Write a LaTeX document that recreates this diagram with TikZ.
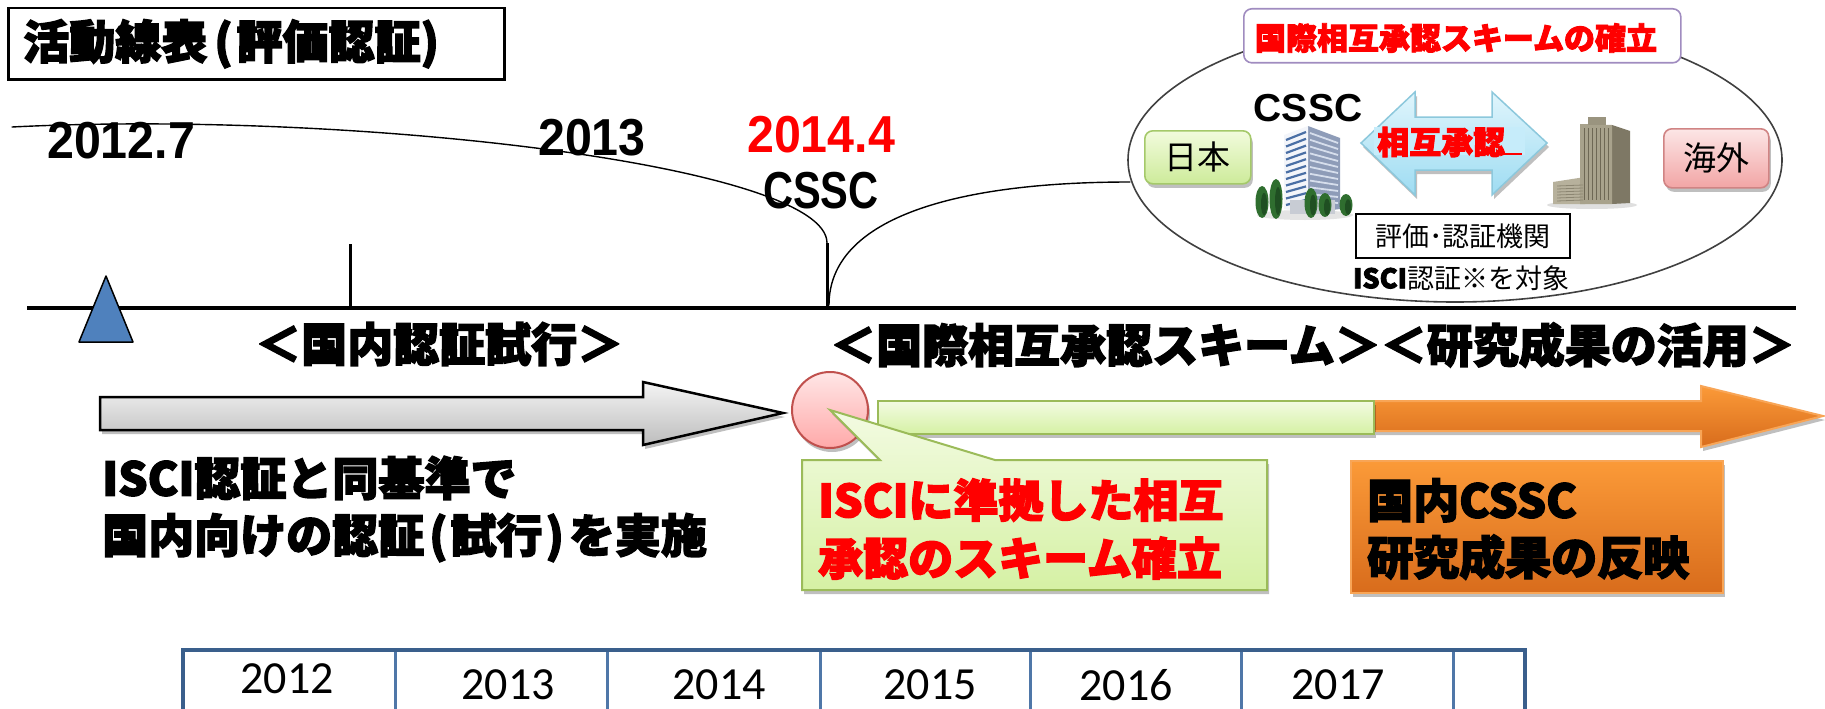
\documentclass[tikz,border=0pt]{standalone}
\usepackage{fontspec}
\usepackage{graphicx}
\setmainfont{Liberation Sans}
\newfontfamily\jpfont[BoldFeatures={FakeBold=3}]{Noto Sans CJK JP}
\newfontfamily\calfont{Carlito}
\usetikzlibrary{shadows}
\newcommand\squeeze[2]{\scalebox{#1}[1]{#2}}
\newcommand\fsz[2]{\fontsize{#1}{#2}\selectfont}

\definecolor{triblue}{HTML}{4F81BD}
\definecolor{graytop}{HTML}{F4F4F4}
\definecolor{graybot}{HTML}{BDBDBD}
\definecolor{pinktop}{HTML}{FFE6E6}
\definecolor{pinkbot}{HTML}{FFA9A9}
\definecolor{pinkline}{HTML}{C0504D}
\definecolor{greentop}{HTML}{F3FBE2}
\definecolor{greenbot}{HTML}{D5F1A4}
\definecolor{greenline}{HTML}{9BBB59}
\definecolor{orangetop}{HTML}{FB9A38}
\definecolor{orangebot}{HTML}{D86C1C}
\definecolor{orangeline}{HTML}{F8A556}
\definecolor{cyantop}{HTML}{E0F5FC}
\definecolor{cyanbot}{HTML}{9EDCF2}
\definecolor{cyanline}{HTML}{8CC8DC}
\definecolor{labelblue}{HTML}{C6ECFA}
\definecolor{tableline}{HTML}{3A5F8C}
\definecolor{tablein}{HTML}{4F77A8}
\definecolor{lilacline}{HTML}{A08CC0}
\definecolor{jpntop}{HTML}{F2FBDD}
\definecolor{jpnbot}{HTML}{CDEB9A}
\definecolor{jpnline}{HTML}{A5C96A}
\definecolor{abrtop}{HTML}{FCE6E6}
\definecolor{abrbot}{HTML}{F2A5A5}
\definecolor{abrline}{HTML}{D08484}
\definecolor{treegreen}{HTML}{2F6E2F}
\definecolor{treedark}{HTML}{1F4F22}
\definecolor{towerside}{HTML}{8E9CB8}
\definecolor{towerfront}{HTML}{F3F5FA}
\definecolor{towerwin}{HTML}{4A6FA5}
\definecolor{towerwinside}{HTML}{D6DEEC}
\definecolor{towerbase}{HTML}{C8CCD4}
\definecolor{stonewing}{HTML}{B7B19C}
\definecolor{stoneside}{HTML}{7E7865}
\definecolor{stonefront}{HTML}{A8A28C}
\definecolor{stonetop}{HTML}{9A947F}
\definecolor{stonewin}{HTML}{6E6855}
\definecolor{stonewinb}{HTML}{8C8672}

\begin{document}
\begin{tikzpicture}[x=1pt,y=-1pt,
  txt/.style={inner sep=0pt},
  jpbold/.style={txt,font=\jpfont\bfseries\fsz{#1}{#1}},
  jpreg/.style={txt,font=\jpfont\fsz{#1}{#1}},
  yearlbl/.style={txt,font=\bfseries\fsz{52}{52}},
  softshadow/.style={drop shadow={shadow xshift=2pt,shadow yshift=-4pt,opacity=0.25,fill=black}},
  ruleline/.style={line width=1.4pt,line cap=round},
  tick/.style={line width=3pt},
  roundbox/.style={rounded corners=8pt,line width=1.6pt},
]
\path[use as bounding box] (0,0) rectangle (1825,709);
\clip (0,0) rectangle (1825,709);
\fill[white] (0,0) rectangle (1825,709);

% ---------- heading ----------
\node[draw=black,line width=2.5pt,anchor=north west,minimum width=496,minimum height=71,
      inner xsep=15pt,text width=466,align=left,font=\jpfont\bfseries\fsz{46}{46}]
  (heading) at (7,7) {活動線表\kern7pt(\kern4pt評価認証)};

% ---------- time axis ----------
\coordinate (axisL) at (27,308);
\coordinate (axisR) at (1796,308);
\draw[line width=4pt] (axisL) -- (axisR);

\coordinate (t13top) at (350,244);
\coordinate (t13bot) at (350,308);
\draw[tick] (t13top) -- (t13bot);

\coordinate (t14top) at (827,243);
\coordinate (t14bot) at (827,308);
\draw[tick] (t14top) -- (t14bot);

\draw[fill=triblue,line width=1.5pt,line join=round] (106,276) -- (133,342) -- (79,342) -- cycle;

% year labels above the axis
\node[yearlbl,anchor=west] (y127) at (47,141) {\squeeze{0.93}{2012.7}};
\node[yearlbl,anchor=west] (y13)  at (538,138) {\squeeze{0.93}{2013}};
\node[yearlbl,anchor=west,text=red] (y144) at (747,135) {\squeeze{0.93}{2014.4}};
\node[yearlbl,anchor=west] (cssctop) at (763,191) {\squeeze{0.8}{CSSC}};

% leader curves meeting at the 2014.4 mark
\coordinate (curveA) at (12,127);
\coordinate (curveB) at (829,305);
\coordinate (curveC) at (1130,182);
\draw[ruleline] (curveA) .. controls (350,110) and (827,165) .. (t14top);
\draw[ruleline] (curveB) .. controls (829,220) and (950,182) .. (curveC);

% phase titles
\node[jpbold=46,anchor=west] (phase1) at (255,344) {＜国内認証試行＞};
\node[jpbold=46,anchor=west] (phase2) at (830,345) {＜国際相互承認スキーム＞＜研究成果の活用＞};

% ---------- phase bars ----------
\draw[line width=2.5pt,line join=miter,top color=graytop,bottom color=graybot,softshadow]
  (100,397) -- (643,397) -- (643,382) -- (783,413) -- (643,445) -- (643,430) -- (100,430) -- cycle;

\draw[line width=2pt,draw=orangeline,top color=orangetop,bottom color=orangebot,softshadow]
  (1374,401) -- (1701,401) -- (1701,386) -- (1823,416) -- (1701,447) -- (1701,431) -- (1374,431) -- cycle;

\draw[line width=2pt,draw=greenline,top color=greentop,bottom color=greenbot,softshadow]
  (878,401) rectangle (1374,434);

\node[circle,minimum size=76,inner sep=0pt,draw=pinkline,line width=2pt,
      top color=pinktop,bottom color=pinkbot,softshadow] (start) at (830,410) {};

% callout from the start marker
\draw[line width=2pt,draw=greenline,top color=greentop,bottom color=greenbot,softshadow,line join=miter]
  (802,460) -- (880,460) -- (start.center) -- (995,460) -- (1267,460) -- (1267,590) -- (802,590) -- cycle;
\node[txt,anchor=west,text=red,align=left,font=\jpfont\bfseries\fsz{45}{58}]
  (callouttext) at (818,529) {ISCIに準拠した相互\\承認のスキーム確立};

% result box
\node[draw=orangeline,line width=2pt,top color=orangetop,bottom color=orangebot,softshadow,
      anchor=north west,minimum width=372,minimum height=132,inner sep=0pt] (resultbox) at (1350,460) {};
\node[txt,anchor=west,align=left,font=\jpfont\bfseries\fsz{46}{57}]
  (resulttext) at (1367,529) {国内CSSC\\研究成果の反映};

% domestic trial note
\node[txt,anchor=west,align=left,font=\jpfont\bfseries\fsz{46}{57}]
  (trialtext) at (102,509) {ISCI認証と同基準で\\国内向けの認証\kern5pt(\kern3pt試行\kern3pt)\kern5ptを実施};

% ---------- mutual recognition scheme ----------
\draw[line width=1.6pt,draw=black!75] (1455,160) ellipse [x radius=327,y radius=142];
\node[draw=lilacline,fill=white,roundbox,anchor=north west,minimum width=437,minimum height=54,
      inner sep=0pt] (schemebox) at (1243,8) {};
\node[jpbold=31,text=red] (schemetext) at (1456,38) {国際相互承認スキームの確立};

\node[draw=jpnline,roundbox,top color=jpntop,bottom color=jpnbot,softshadow,
      anchor=north west,minimum width=106,minimum height=53,inner sep=0pt] (japan) at (1144,130) {};
\node[jpreg=33] at (japan.center) {日本};
\node[draw=abrline,roundbox,top color=abrtop,bottom color=abrbot,softshadow,
      anchor=north west,minimum width=105,minimum height=59,inner sep=0pt] (abroad) at (1663,128) {};
\node[jpreg=33] at (abroad.center) {海外};

\node[txt,font=\bfseries\fsz{39}{39}] (csscin) at (1308,108) {CSSC};

% two-way arrow
\draw[line width=1.5pt,draw=cyanline,top color=cyantop,bottom color=cyanbot,softshadow,line join=miter]
  (1361,143) -- (1415,92) -- (1415,117) -- (1492,117) -- (1492,92) -- (1547,143)
  -- (1492,195) -- (1492,170) -- (1415,170) -- (1415,195) -- cycle;
\fill[labelblue] (1374,127) rectangle (1525,155);
\node[jpbold=32,text=red,anchor=west] (mutual) at (1377,142) {相互承認};
\draw[red,line width=2pt] (1504,154) -- (1522,154);

% CSSC office tower with trees
\fill[gray!30,opacity=0.7] (1305,215) ellipse [x radius=48,y radius=5];
\fill[towerside] (1308,126) -- (1340,138) -- (1340,209) -- (1308,213) -- cycle;
\fill[towerfront] (1284,135) -- (1308,126) -- (1308,213) -- (1284,209) -- cycle;
\foreach \k in {0,...,10} {
  \draw[towerwin,line width=2.2pt] (1286,{140+6.5*\k}) -- (1306,{132+6.8*\k});
  \draw[towerwinside,line width=1.8pt] (1310,{133+6.8*\k}) -- (1338,{143+6*\k});
}
\fill[towerbase] (1290,200) rectangle (1335,214);
\foreach \tx/\ty/\th in {1262/202/16,1276/199/20,1311/203/15,1325/205/12,1346/205/11} {
  \fill[brown!60!black] (\tx-1.2,\ty) rectangle (\tx+1.2,\ty+11);
  \fill[treegreen] (\tx,\ty) ellipse [x radius=6.5,y radius=\th];
  \fill[treedark] (\tx+2,\ty+2) ellipse [x radius=3,y radius={\th*0.7}];
}

% overseas tower
\fill[gray!35,opacity=0.7] (1592,205) ellipse [x radius=45,y radius=4];
\fill[stonewing] (1553,182) -- (1585,177) -- (1585,204) -- (1553,204) -- cycle;
\fill[stoneside] (1612,125) -- (1630,131) -- (1630,203) -- (1612,204) -- cycle;
\fill[stonefront] (1580,124) -- (1612,125) -- (1612,204) -- (1580,204) -- cycle;
\fill[stonetop] (1588,117) rectangle (1606,125);
\foreach \k in {0,...,6} {
  \draw[stonewin,line width=1pt] ({1584+4*\k},128) -- ({1584+4*\k},200);
}
\foreach \k in {0,...,5} {
  \draw[stonewinb,line width=0.8pt] (1557,{186+3*\k}) -- (1583,{185+3*\k});
}

\node[draw=black,line width=1.6pt,fill=white,anchor=north west,minimum width=214,minimum height=44,
      inner sep=0pt] (bodybox) at (1355,213) {};
\node[jpreg=27] at (bodybox.center) {評価･認証機関};
\node[jpreg=27] (target) at (1461,278) {{\bfseries ISCI}認証※を対象};

% ---------- year table ----------
\draw[line width=4pt,draw=tableline] (183,650) rectangle (1525,740);
\foreach \xx in {395,607,820,1030,1241,1453} {
  \draw[line width=3pt,draw=tablein] (\xx,652) -- (\xx,709);
}
\foreach \yy/\xc/\yc in {2012/287/679,2013/508/685,2014/719/685,2015/930/685,2016/1126/685,2017/1338/685} {
  \node[txt,font=\calfont\fsz{46}{46}] (yr\yy) at (\xc,\yc) {\yy};
}
\end{tikzpicture}
\end{document}
